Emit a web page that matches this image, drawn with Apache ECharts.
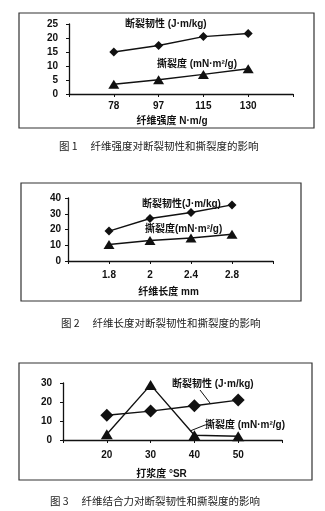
<!DOCTYPE html>
<html>
<head>
<meta charset="utf-8">
<script src="https://cdn.jsdelivr.net/npm/echarts@6/dist/echarts.min.js"></script>
<style>
  html, body { margin: 0; padding: 0; background: #fff; }
  #chart { width: 325px; height: 511px; }
</style>
</head>
<body>
<div id="chart"></div>
<script>
// 图1 纤维强度
const strengthCats = ['', '78', '97', '115', '130', '']
const strengthTough = [null, 15, 17.3, 20.5, 21.6, null]
const strengthTear = [null, 3.5, 5.1, 7, 9, null]

// 图2 纤维长度
const lengthCats = ['', '1.8', '2', '2.4', '2.8', '']
const lengthTough = [null, 19, 27, 30.8, 35.6, null]
const lengthTear = [null, 10.5, 13, 14.6, 17, null]

// 图3 打浆度
const beatCats = ['', '20', '30', '40', '50', '']
const beatTough = [null, 13, 15.2, 18, 21, null]
const beatTear = [null, 3, 29, 2.5, 2, null]

const yTicks = [
  { max: 25, interval: 5 },
  { max: 40, interval: 10 },
  { max: 30, interval: 10 }
]

const latin = "'Liberation Sans', 'Noto Sans CJK SC', sans-serif"
const ink = '#111'

const chart = echarts.init(document.getElementById('chart'))

function xAxis(idx, cats, name, margin, gap, shift) {
  return {
    type: 'category',
    gridIndex: idx,
    data: cats,
    boundaryGap: false,
    axisLine: { lineStyle: { color: ink, width: 1.3 } },
    axisTick: { length: 3, lineStyle: { color: ink } },
    axisLabel: { margin: margin, color: ink, fontSize: 10, fontWeight: 'bold', fontFamily: latin, interval: 0 },
    name: name,
    nameLocation: 'middle',
    nameGap: gap,
    nameTextStyle: { color: ink, fontSize: 10, fontWeight: 'bold', fontFamily: latin, padding: [0, shift, 0, 0] }
  }
}

function yAxis(idx, margin) {
  return {
    type: 'value',
    gridIndex: idx,
    min: 0,
    max: yTicks[idx].max,
    interval: yTicks[idx].interval,
    splitLine: { show: false },
    axisLine: { show: true, lineStyle: { color: ink, width: 1.3 } },
    axisTick: { show: true, length: 3, lineStyle: { color: ink } },
    axisLabel: { margin: margin, color: ink, fontSize: 10, fontWeight: 'bold', fontFamily: latin }
  }
}

function pairs(cats, vals) {
  return vals.map((v, i) => [cats[i], v])
}

function line(idx, cats, vals, symbol, size) {
  return {
    type: 'line',
    xAxisIndex: idx,
    yAxisIndex: idx,
    data: pairs(cats, vals),
    connectNulls: false,
    symbol: symbol,
    symbolSize: size,
    showSymbol: true,
    lineStyle: { color: ink, width: 1.4 },
    itemStyle: { color: ink, borderWidth: 0 },
    emphasis: { disabled: true }
  }
}

function frame(x1, y1, x2, y2) {
  return {
    type: 'rect',
    shape: { x: x1, y: y1, width: x2 - x1, height: y2 - y1 },
    style: { fill: null, stroke: '#333', lineWidth: 1.2 },
    silent: true
  }
}

function note(text, x, y) {
  return {
    type: 'text',
    x: x,
    y: y,
    style: { text: text, fill: ink, font: 'bold 10px ' + latin, textVerticalAlign: 'middle' },
    silent: true
  }
}

function caption(text, x, y) {
  return {
    type: 'text',
    x: x,
    y: y,
    style: { text: text, fill: '#222', font: '10.5px "Noto Sans CJK SC", sans-serif', textVerticalAlign: 'middle' },
    silent: true
  }
}

function leader(x1, y1, x2, y2) {
  return {
    type: 'line',
    shape: { x1: x1, y1: y1, x2: x2, y2: y2 },
    style: { stroke: ink, lineWidth: 1 },
    silent: true
  }
}

chart.setOption({
  animation: false,
  backgroundColor: '#fff',
  grid: [
    { left: 69, right: 32, top: 24, bottom: 417 },
    { left: 68, right: 52, top: 198, bottom: 250 },
    { left: 63, right: 43, top: 383, bottom: 71 }
  ],
  xAxis: [
    xAxis(0, strengthCats, '纤维强度 N·m/g', 7, 22, 18),
    xAxis(1, lengthCats, '纤维长度 mm', 9, 26, 4),
    xAxis(2, beatCats, '打浆度 °SR', 10, 29, 22)
  ],
  yAxis: [yAxis(0, 11), yAxis(1, 7), yAxis(2, 11)],
  series: [
    line(0, strengthCats, strengthTough, 'diamond', 9),
    line(0, strengthCats, strengthTear, 'triangle', [11, 9]),
    line(1, lengthCats, lengthTough, 'diamond', 9),
    line(1, lengthCats, lengthTear, 'triangle', [11, 9]),
    line(2, beatCats, beatTough, 'diamond', 13),
    line(2, beatCats, beatTear, 'triangle', [12, 10])
  ],
  graphic: [
    frame(19, 13, 314, 128),
    frame(21, 183, 301, 301),
    frame(19, 363, 312, 480),
    note('断裂韧性 (J·m/kg)', 125, 24),
    note('撕裂度 (mN·m²/g)', 157, 64),
    note('断裂韧性(J·m/kg)', 142, 204),
    note('撕裂度(mN·m²/g)', 145, 229),
    note('断裂韧性 (J·m/kg)', 172, 384),
    note('撕裂度 (mN·m²/g)', 205, 425),
    leader(200, 390, 210, 403),
    leader(205, 425, 190, 431),
    caption('图 1　 纤维强度对断裂韧性和撕裂度的影响', 59, 146),
    caption('图 2　 纤维长度对断裂韧性和撕裂度的影响', 61, 323),
    caption('图 3　 纤维结合力对断裂韧性和撕裂度的影响', 50, 501)
  ]
})
</script>
</body>
</html>
